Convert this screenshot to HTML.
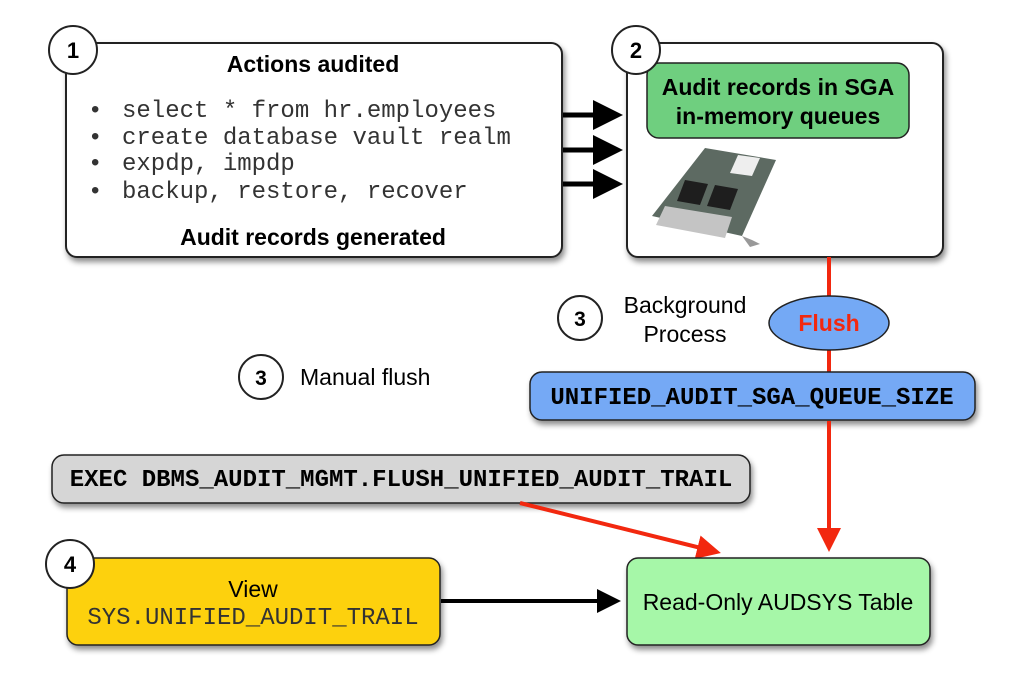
<!DOCTYPE html>
<html><head><meta charset="utf-8"><style>
html,body{margin:0;padding:0;background:#fff;}
svg{display:block;}
.s{font-family:"Liberation Sans",sans-serif;}
.m{font-family:"Liberation Mono","Courier New",monospace;}
</style></head><body>
<svg width="1024" height="677" viewBox="0 0 1024 677" xmlns="http://www.w3.org/2000/svg">
<defs>
<filter id="sh" x="-10%" y="-10%" width="130%" height="140%"><feDropShadow dx="2" dy="4" stdDeviation="3" flood-color="#000" flood-opacity="0.45"/></filter>
<marker id="ab" markerWidth="6" markerHeight="6" refX="5" refY="3" orient="auto" markerUnits="strokeWidth"><path d="M0,0 L6,3 L0,6z" fill="#000"/></marker>
<marker id="ar" markerWidth="6" markerHeight="6" refX="5" refY="3" orient="auto" markerUnits="strokeWidth"><path d="M0,0 L6,3 L0,6z" fill="#f2280f"/></marker>
</defs>

<!-- Box 1 -->
<rect x="66" y="43" width="496" height="214" rx="11" fill="#fff" stroke="#222" stroke-width="2" filter="url(#sh)"/>
<text x="313" y="72" class="s" font-size="23" font-weight="bold" text-anchor="middle">Actions audited</text>
<g class="m" font-size="24" fill="#333">
<text x="88" y="117">•</text><text x="122" y="117">select * from hr.employees</text>
<text x="88" y="144">•</text><text x="122" y="144">create database vault realm</text>
<text x="88" y="170">•</text><text x="122" y="170">expdp, impdp</text>
<text x="88" y="198">•</text><text x="122" y="198">backup, restore, recover</text>
</g>
<text x="313" y="245" class="s" font-size="23" font-weight="bold" text-anchor="middle">Audit records generated</text>
<circle cx="73" cy="50" r="24" fill="#fff" stroke="#222" stroke-width="2"/>
<text x="73" y="58" class="s" font-size="22" font-weight="bold" text-anchor="middle">1</text>

<!-- arrows -->
<g stroke="#000" stroke-width="5">
<line x1="563" y1="115" x2="618" y2="115" marker-end="url(#ab)"/>
<line x1="563" y1="150" x2="618" y2="150" marker-end="url(#ab)"/>
<line x1="563" y1="184" x2="618" y2="184" marker-end="url(#ab)"/>
</g>

<!-- Box 2 -->
<rect x="627" y="43" width="316" height="214" rx="11" fill="#fff" stroke="#222" stroke-width="2" filter="url(#sh)"/>
<rect x="647" y="63" width="262" height="75" rx="12" fill="#6fcf7f" stroke="#222" stroke-width="1.5"/>
<text x="778" y="95" class="s" font-size="23" font-weight="bold" text-anchor="middle">Audit records in SGA</text>
<text x="778" y="124" class="s" font-size="23" font-weight="bold" text-anchor="middle">in-memory queues</text>
<!-- card image approximation -->
<g>
<polygon points="705,148 776,160 742,236 652,216" fill="#5d6a62"/>
<polygon points="738,155 760,158 752,176 730,173" fill="#eee"/>
<polygon points="685,180 708,184 700,205 677,201" fill="#1e1e1e"/>
<polygon points="715,185 738,189 730,210 707,206" fill="#1e1e1e"/>
<polygon points="665,206 732,217 725,238 656,225" fill="#c4c4c4"/>
<polygon points="742,236 752,240 760,244 750,247" fill="#999"/>
</g>
<circle cx="636" cy="50" r="24" fill="#fff" stroke="#222" stroke-width="2"/>
<text x="636" y="58" class="s" font-size="22" font-weight="bold" text-anchor="middle">2</text>

<!-- red vertical -->
<line x1="829" y1="257" x2="829" y2="372" stroke="#f2280f" stroke-width="4"/>
<ellipse cx="829" cy="323" rx="60" ry="27" fill="#74a9f5" stroke="#222" stroke-width="1.5"/>
<text x="829" y="331" class="s" font-size="23" font-weight="bold" fill="#f2280f" text-anchor="middle">Flush</text>

<circle cx="580" cy="318" r="22" fill="#fff" stroke="#222" stroke-width="2"/>
<text x="580" y="326" class="s" font-size="21" font-weight="bold" text-anchor="middle">3</text>
<text x="685" y="313" class="s" font-size="23" text-anchor="middle">Background</text>
<text x="685" y="342" class="s" font-size="23" text-anchor="middle">Process</text>

<circle cx="261" cy="377" r="22" fill="#fff" stroke="#222" stroke-width="2"/>
<text x="261" y="385" class="s" font-size="21" font-weight="bold" text-anchor="middle">3</text>
<text x="300" y="385" class="s" font-size="23">Manual flush</text>

<!-- blue bar -->
<rect x="530" y="372" width="445" height="48" rx="12" fill="#74a9f5" stroke="#222" stroke-width="1.5" filter="url(#sh)"/>
<text x="752" y="404" class="m" font-size="24" font-weight="bold" text-anchor="middle">UNIFIED_AUDIT_SGA_QUEUE_SIZE</text>

<line x1="829" y1="421" x2="829" y2="548" stroke="#f2280f" stroke-width="4" marker-end="url(#ar)"/>

<!-- gray bar -->
<rect x="52" y="455" width="698" height="48" rx="12" fill="#d6d6d6" stroke="#222" stroke-width="1.5" filter="url(#sh)"/>
<text x="401" y="486" class="m" font-size="24" font-weight="bold" text-anchor="middle">EXEC DBMS_AUDIT_MGMT.FLUSH_UNIFIED_AUDIT_TRAIL</text>

<line x1="520" y1="503" x2="717" y2="552" stroke="#f2280f" stroke-width="4" marker-end="url(#ar)"/>

<!-- yellow -->
<rect x="67" y="558" width="373" height="87" rx="11" fill="#fdd10c" stroke="#222" stroke-width="1.5" filter="url(#sh)"/>
<text x="253" y="597" class="s" font-size="23" text-anchor="middle">View</text>
<text x="253" y="624" class="m" font-size="24" fill="#333" text-anchor="middle">SYS.UNIFIED_AUDIT_TRAIL</text>
<circle cx="70" cy="564" r="24" fill="#fff" stroke="#222" stroke-width="2"/>
<text x="70" y="572" class="s" font-size="22" font-weight="bold" text-anchor="middle">4</text>

<line x1="441" y1="601" x2="617" y2="601" stroke="#000" stroke-width="4" marker-end="url(#ab)"/>

<!-- green -->
<rect x="627" y="558" width="303" height="87" rx="11" fill="#a6f7a8" stroke="#222" stroke-width="1.5" filter="url(#sh)"/>
<text x="778" y="610" class="s" font-size="23" text-anchor="middle">Read-Only AUDSYS Table</text>
</svg>
</body></html>
